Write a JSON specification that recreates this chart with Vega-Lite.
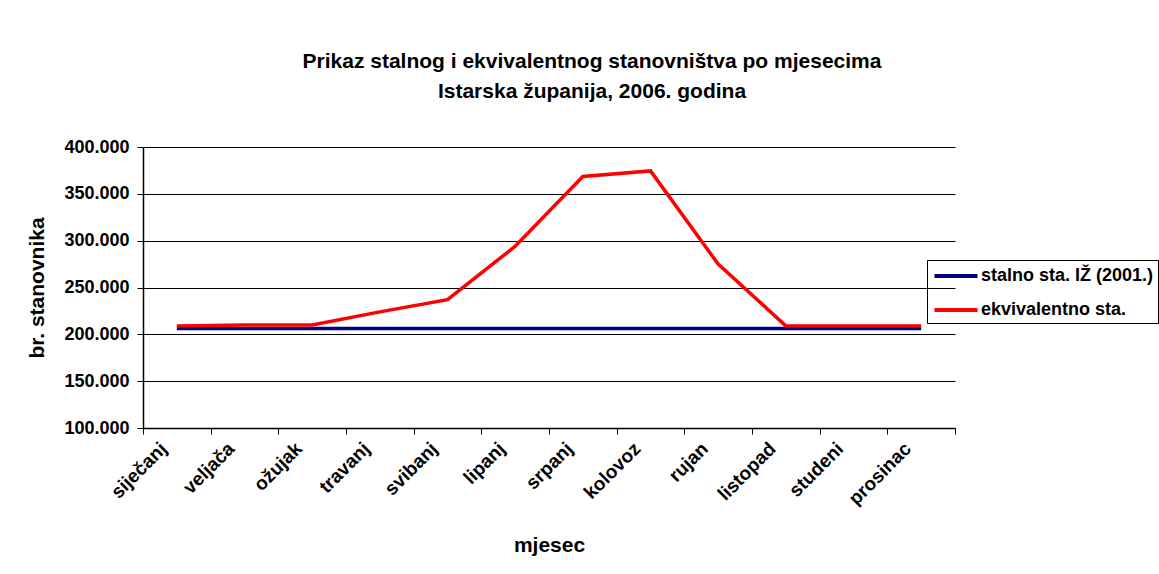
{
  "$schema": "https://vega.github.io/schema/vega-lite/v6.json",
  "autosize": {"type": "none"},
  "width": 812,
  "height": 281,
  "padding": {"left": 143, "top": 147, "right": 204, "bottom": 146},
  "background": "white",
  "title": {
    "text": ["Prikaz stalnog i ekvivalentnog stanovništva po mjesecima", "Istarska županija, 2006. godina"],
    "anchor": "middle",
    "dx": 43,
    "offset": 36,
    "font": "Liberation Sans",
    "fontSize": 21,
    "fontWeight": "bold",
    "lineHeight": 30,
    "color": "black"
  },
  "data": {
    "values": [
      {"mjesec": "siječanj", "serija": "stalno sta. IŽ (2001.)", "vrijednost": 206344},
      {"mjesec": "veljača", "serija": "stalno sta. IŽ (2001.)", "vrijednost": 206344},
      {"mjesec": "ožujak", "serija": "stalno sta. IŽ (2001.)", "vrijednost": 206344},
      {"mjesec": "travanj", "serija": "stalno sta. IŽ (2001.)", "vrijednost": 206344},
      {"mjesec": "svibanj", "serija": "stalno sta. IŽ (2001.)", "vrijednost": 206344},
      {"mjesec": "lipanj", "serija": "stalno sta. IŽ (2001.)", "vrijednost": 206344},
      {"mjesec": "srpanj", "serija": "stalno sta. IŽ (2001.)", "vrijednost": 206344},
      {"mjesec": "kolovoz", "serija": "stalno sta. IŽ (2001.)", "vrijednost": 206344},
      {"mjesec": "rujan", "serija": "stalno sta. IŽ (2001.)", "vrijednost": 206344},
      {"mjesec": "listopad", "serija": "stalno sta. IŽ (2001.)", "vrijednost": 206344},
      {"mjesec": "studeni", "serija": "stalno sta. IŽ (2001.)", "vrijednost": 206344},
      {"mjesec": "prosinac", "serija": "stalno sta. IŽ (2001.)", "vrijednost": 206344},
      {"mjesec": "siječanj", "serija": "ekvivalentno sta.", "vrijednost": 209000},
      {"mjesec": "veljača", "serija": "ekvivalentno sta.", "vrijednost": 210000},
      {"mjesec": "ožujak", "serija": "ekvivalentno sta.", "vrijednost": 210000},
      {"mjesec": "travanj", "serija": "ekvivalentno sta.", "vrijednost": 224000},
      {"mjesec": "svibanj", "serija": "ekvivalentno sta.", "vrijednost": 237000},
      {"mjesec": "lipanj", "serija": "ekvivalentno sta.", "vrijednost": 294000},
      {"mjesec": "srpanj", "serija": "ekvivalentno sta.", "vrijednost": 368500},
      {"mjesec": "kolovoz", "serija": "ekvivalentno sta.", "vrijednost": 374500},
      {"mjesec": "rujan", "serija": "ekvivalentno sta.", "vrijednost": 275000},
      {"mjesec": "listopad", "serija": "ekvivalentno sta.", "vrijednost": 209000},
      {"mjesec": "studeni", "serija": "ekvivalentno sta.", "vrijednost": 209000},
      {"mjesec": "prosinac", "serija": "ekvivalentno sta.", "vrijednost": 209000}
    ]
  },
  "mark": {"type": "line", "strokeWidth": 3.5, "strokeJoin": "miter"},
  "encoding": {
    "x": {
      "field": "mjesec",
      "type": "ordinal",
      "sort": ["siječanj", "veljača", "ožujak", "travanj", "svibanj", "lipanj", "srpanj", "kolovoz", "rujan", "listopad", "studeni", "prosinac"],
      "scale": {"type": "band", "paddingInner": 0, "paddingOuter": 0},
      "axis": {
        "title": "mjesec",
        "titleFont": "Liberation Sans",
        "titleFontSize": 21,
        "titleFontWeight": "bold",
        "titleColor": "black",
        "titlePadding": 26,
        "labelAngle": -45,
        "labelFont": "Liberation Sans",
        "labelFontSize": 19,
        "labelFontWeight": "bold",
        "labelColor": "black",
        "labelPadding": 5,
        "labelOffset": -20,
        "tickBand": "extent",
        "tickColor": "black",
        "tickSize": 6,
        "domainColor": "black",
        "domainWidth": 1.5,
        "grid": false
      }
    },
    "y": {
      "field": "vrijednost",
      "type": "quantitative",
      "scale": {"domain": [100000, 400000], "nice": false, "zero": false},
      "axis": {
        "title": "br. stanovnika",
        "titleFont": "Liberation Sans",
        "titleFontSize": 21,
        "titleFontWeight": "bold",
        "titleColor": "black",
        "titlePadding": 16,
        "values": [100000, 150000, 200000, 250000, 300000, 350000, 400000],
        "labelExpr": "replace(format(datum.value, ','), ',', '.')",
        "labelFont": "Liberation Sans",
        "labelFontSize": 18,
        "labelFontWeight": "bold",
        "labelColor": "black",
        "labelPadding": 8,
        "tickColor": "black",
        "tickSize": 6,
        "domainColor": "black",
        "domainWidth": 1.5,
        "grid": true,
        "gridColor": "black",
        "gridWidth": 1,
        "gridOpacity": 1
      }
    },
    "color": {
      "field": "serija",
      "type": "nominal",
      "scale": {"domain": ["stalno sta. IŽ (2001.)", "ekvivalentno sta."], "range": ["#000080", "#ff0000"]},
      "legend": {
        "title": null,
        "orient": "none",
        "legendX": 784,
        "legendY": 113,
        "strokeColor": "black",
        "padding": 4,
        "symbolType": "M-2.15,0H2.15",
        "symbolSize": 400,
        "symbolStrokeWidth": 4,
        "symbolOffset": 13,
        "rowPadding": 13,
        "labelFont": "Liberation Sans",
        "labelFontSize": 18,
        "labelFontWeight": "bold",
        "labelColor": "black",
        "labelOffset": 13,
        "labelLimit": 300
      }
    }
  },
  "config": {
    "view": {"stroke": null}
  }
}
